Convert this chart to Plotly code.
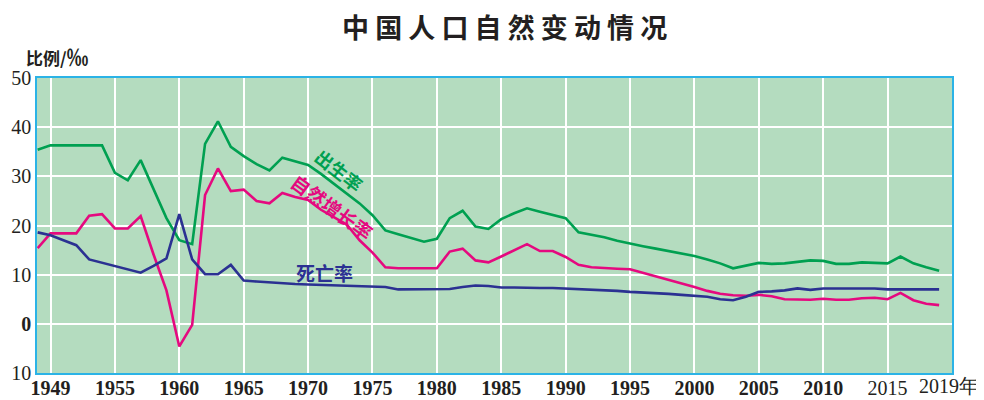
import plotly.graph_objects as go

years = list(range(1949, 2020))

birth_rate = [
    35.4, 36.3, 36.3, 36.3, 36.3, 36.3, 30.7, 29.2, 33.3, 27.4,  # 1949-1958
    21.5, 17.0, 16.2, 36.6, 41.2, 36.0, 34.1, 32.5, 31.2, 33.8,  # 1959-1968
    33.1, 32.3, 30.5, 28.5, 26.5, 24.5, 22.1, 19.0, 18.2, 17.4,  # 1969-1978
    16.7, 17.3, 21.5, 23.0, 19.8, 19.3, 21.3, 22.5, 23.5, 22.8,  # 1979-1988
    22.2, 21.5, 18.6, 18.1, 17.6, 16.9, 16.3, 15.8, 15.3, 14.8,  # 1989-1998
    14.3, 13.8, 13.1, 12.3, 11.3, 11.9, 12.4, 12.2, 12.3, 12.6,  # 1999-2008
    12.9, 12.8, 12.2, 12.2, 12.5, 12.4, 12.3, 13.7, 12.3, 11.5,  # 2009-2018
    10.8,                                                        # 2019
]

death_rate = [
    18.6, 18.0, 17.0, 16.0, 13.1, 12.4, 11.7, 11.0, 10.4, 11.8,
    13.3, 22.3, 13.1, 10.1, 10.1, 12.0, 8.8, 8.6, 8.4, 8.2,
    8.1, 8.0, 7.9, 7.8, 7.7, 7.6, 7.5, 7.5, 7.0, 7.0,
    7.0, 7.0, 7.1, 7.5, 7.8, 7.7, 7.4, 7.4, 7.3, 7.3,
    7.3, 7.2, 7.1, 7.0, 6.9, 6.7, 6.5, 6.4, 6.3, 6.1,
    5.9, 5.7, 5.5, 5.0, 4.8, 5.5, 6.5, 6.6, 6.8, 7.2,
    6.9, 7.2, 7.2, 7.2, 7.2, 7.2, 7.0, 7.0, 7.0, 7.0,
    7.0,
]

growth_rate = [
    15.4, 18.4, 18.4, 18.4, 22.0, 22.3, 19.4, 19.4, 21.9, 14.1,
    6.8, -4.6, -0.2, 26.2, 31.6, 27.0, 27.3, 25.0, 24.5, 26.6,
    25.8, 25.2, 23.2, 21.7, 20.2, 17.0, 14.5, 11.5, 11.3, 11.3,
    11.3, 11.3, 14.7, 15.3, 12.9, 12.5, 13.7, 15.0, 16.2, 14.8,
    14.8, 13.6, 12.0, 11.5, 11.3, 11.2, 11.1, 10.4, 9.7, 9.0,
    8.3, 7.5, 6.7, 6.1, 5.8, 5.7, 5.9, 5.6, 5.0, 4.9,
    4.9, 5.1, 4.9, 4.9, 5.2, 5.3, 5.0, 6.3, 4.8, 4.1,
    3.8,
]

x_tickvals = [1950, 1955, 1960, 1965, 1970, 1975, 1980, 1985, 1990, 1995, 2000, 2005, 2010, 2015]
x_ticktext = ["<b>1949</b>", "<b>1955</b>", "<b>1960</b>", "<b>1965</b>", "<b>1970</b>",
              "<b>1975</b>", "<b>1980</b>", "<b>1985</b>", "<b>1990</b>", "<b>1995</b>",
              "<b>2000</b>", "<b>2005</b>", "<b>2010</b>", "2015"]
y_tickvals = [-10, 0, 10, 20, 30, 40, 50]
y_ticktext = ["10", "<b>0</b>", "10", "20", "30", "40", "50"]

GREEN = "#00a051"
MAGENTA = "#e5097f"
NAVY = "#2b3192"
BORDER = "#2bb3e6"
BG = "#b4dcbf"
TEXT = "#231f20"

fig = go.Figure()
fig.add_trace(go.Scatter(x=years, y=birth_rate, mode="lines",
                         line=dict(color=GREEN, width=2.6), name="出生率"))
fig.add_trace(go.Scatter(x=years, y=growth_rate, mode="lines",
                         line=dict(color=MAGENTA, width=2.6), name="自然增长率"))
fig.add_trace(go.Scatter(x=years, y=death_rate, mode="lines",
                         line=dict(color=NAVY, width=2.6), name="死亡率"))

# page body has an 8px margin; figure is sized so the plot area sits at x 37..952, y 78..373
fig.update_layout(
    width=976, height=392,
    margin=dict(l=29, r=32, t=70, b=27, pad=0),
    paper_bgcolor="white",
    plot_bgcolor=BG,
    showlegend=False,
    font=dict(family="Liberation Serif", color=TEXT),
    xaxis=dict(
        range=[1948.95, 2020.0], automargin=False,
        tickvals=x_tickvals, ticktext=x_ticktext,
        showgrid=True, gridcolor="white", gridwidth=1.5,
        showline=True, mirror=True, linecolor=BORDER, linewidth=1.5,
        zeroline=False, ticks="", ticklabelstandoff=-4,
        tickfont=dict(family="Liberation Serif", size=20, color=TEXT),
    ),
    yaxis=dict(
        range=[-10, 50], automargin=False,
        tickvals=y_tickvals, ticktext=y_ticktext,
        showgrid=True, gridcolor="white", gridwidth=1.5,
        showline=True, mirror=True, linecolor=BORDER, linewidth=1.5,
        zeroline=False, ticks="",
        tickfont=dict(family="Liberation Serif", size=20, color=TEXT),
    ),
)

cjk = "Noto Sans CJK SC"
annotations = [
    dict(text="<b>中 国 人 口 自 然 变 动 情 况</b>", xref="paper", yref="paper",
         x=(505 - 37) / 915, y=(373 - 26.5) / 295, xanchor="center", yanchor="middle",
         showarrow=False, font=dict(family=cjk, size=27, color=TEXT)),
    dict(text="<b>比例/<span style='font-size:22px'>‰</span></b>", xref="paper", yref="paper",
         x=(24 - 37) / 915, y=(373 - 55) / 295, xanchor="left", yanchor="middle",
         showarrow=False, font=dict(family=cjk, size=17, color=TEXT)),
    dict(text="2019年", xref="x", yref="paper", x=2019, y=(373 - 386) / 295,
         xanchor="center", yanchor="middle", xshift=10, showarrow=False,
         font=dict(family="Liberation Serif", size=20, color=TEXT)),
    dict(text="<b>出生率</b>", xref="x", yref="y", x=1972.4, y=31.2,
         textangle=38, showarrow=False, font=dict(family=cjk, size=18, color=GREEN)),
    dict(text="<b>自然增长率</b>", xref="x", yref="y", x=1971.9, y=23.9,
         textangle=36, showarrow=False, font=dict(family=cjk, size=19, color=MAGENTA)),
    dict(text="<b>死亡率</b>", xref="x", yref="y", x=1971.3, y=10.4,
         showarrow=False, font=dict(family=cjk, size=19, color=NAVY)),
]
fig.update_layout(annotations=annotations)

fig.write_html("out.html")
